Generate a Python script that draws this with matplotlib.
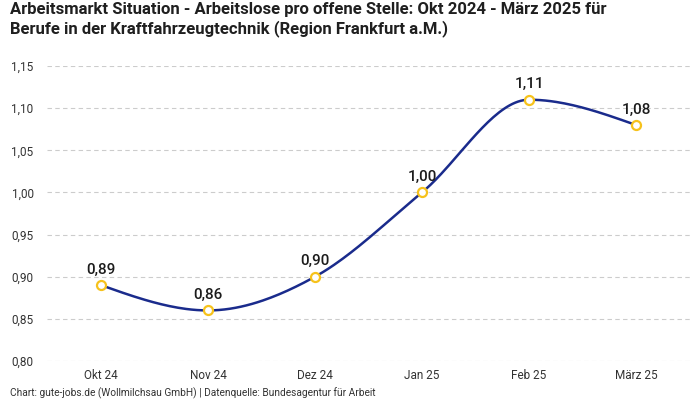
import numpy as np
import matplotlib
matplotlib.use('Agg')
import matplotlib.pyplot as plt

months = ['Okt 24', 'Nov 24', 'Dez 24', 'Jan 25', 'Feb 25', 'März 25']
values = [0.89, 0.86, 0.90, 1.00, 1.11, 1.08]
yticks = [0.80, 0.85, 0.90, 0.95, 1.00, 1.05, 1.10, 1.15]

title = ('Arbeitsmarkt Situation - Arbeitslose pro offene Stelle: Okt 2024 - März 2025 für\n'
         'Berufe in der Kraftfahrzeugtechnik (Region Frankfurt a.M.)')
footer = 'Chart: gute-jobs.de (Wollmilchsau GmbH) | Datenquelle: Bundesagentur für Arbeit'

plt.rcParams['font.family'] = ['Roboto', 'DejaVu Sans']


def fmt(v):
    return ('%.2f' % v).replace('.', ',')


def monotone(x, y, n=40):
    # monotone cubic curve through the points (like d3 curveMonotoneX)
    x = np.asarray(x, float)
    y = np.asarray(y, float)
    h = np.diff(x)
    s = np.diff(y) / h
    m = np.zeros(len(x))
    for i in range(1, len(x) - 1):
        if s[i - 1] * s[i] <= 0:
            m[i] = 0
        else:
            p = (s[i - 1] * h[i] + s[i] * h[i - 1]) / (h[i - 1] + h[i])
            m[i] = np.sign(s[i - 1]) * min(abs(s[i - 1]), abs(s[i]), 0.5 * abs(p)) * 2
    m[0] = (3 * s[0] - m[1]) / 2
    m[-1] = (3 * s[-1] - m[-2]) / 2
    xs, ys = [], []
    for i in range(len(x) - 1):
        t = np.linspace(0, 1, n)
        h00 = 2 * t**3 - 3 * t**2 + 1
        h10 = t**3 - 2 * t**2 + t
        h01 = -2 * t**3 + 3 * t**2
        h11 = t**3 - t**2
        xs.extend(x[i] + t * h[i])
        ys.extend(h00 * y[i] + h10 * h[i] * m[i] + h01 * y[i + 1] + h11 * h[i] * m[i + 1])
    return np.array(xs), np.array(ys)


fig = plt.figure(figsize=(7, 4), dpi=100)
ax = fig.add_axes([47.5 / 700, 1 - 361 / 400, 642 / 700, 295 / 400])

xpos = np.arange(len(months))
cx, cy = monotone(xpos, values)
ax.plot(cx, cy, color='#1a2b8c', lw=1.8, zorder=3)
ax.plot(xpos, values, 'o', ms=6.5, mfc='white', mec='#f6c21c', mew=1.6, zorder=4)

for x, v in zip(xpos, values):
    ax.annotate(fmt(v), (x, v), xytext=(0, 6), textcoords='offset points',
                ha='center', va='bottom', fontsize=11, fontweight='medium', color='#1c1c1c')

ax.set_xlim(-0.5, len(months) - 0.5)
ax.set_ylim(0.80, 1.15)
ax.set_xticks(xpos)
ax.set_xticklabels(months)
ax.set_yticks(yticks)
ax.set_yticklabels([fmt(v) for v in yticks])
ax.tick_params(axis='both', length=0, labelsize=8.5, colors='#333333')
ax.tick_params(axis='y', pad=10)
ax.tick_params(axis='x', pad=6)
ax.grid(axis='y', color='#cccccc', ls=(0, (4, 3)), lw=0.8)
for sp in ax.spines.values():
    sp.set_visible(False)

fig.text(10 / 700, 1 - 2 / 400, title, ha='left', va='top', fontsize=12,
         fontweight='bold', color='#1f1f1f', linespacing=1.2)
fig.text(10 / 700, 1 - 393 / 400, footer, ha='left', va='center', fontsize=7.3, color='#333333')

fig.savefig('out.png', dpi=100)
